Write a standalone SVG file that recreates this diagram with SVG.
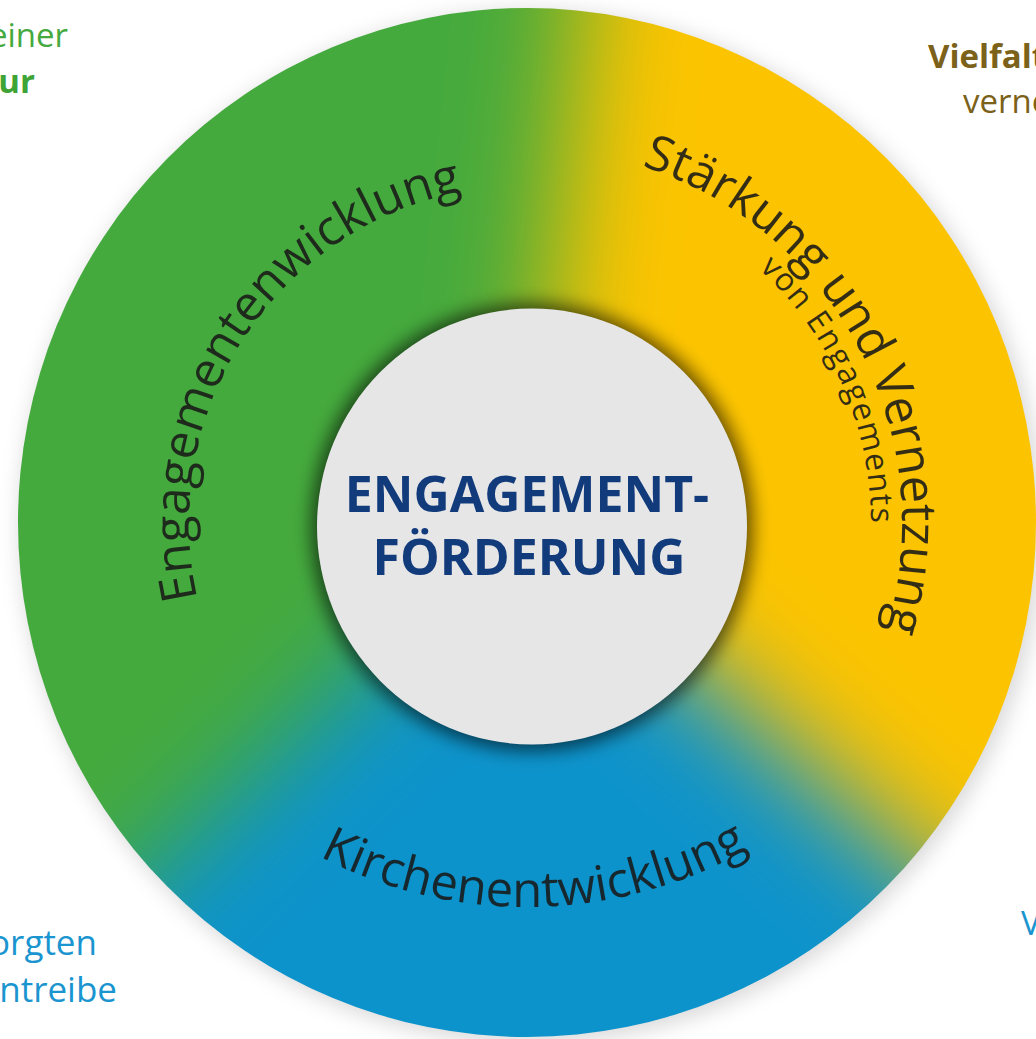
<svg xmlns="http://www.w3.org/2000/svg" xmlns:xlink="http://www.w3.org/1999/xlink" width="1036" height="1039" viewBox="0 0 1036 1039">
  <style>
    .corner { font-family: "Open Sans", "Liberation Sans", sans-serif; font-size: 33px; }
    .arc { font-family: "Open Sans", "Liberation Sans", sans-serif; font-size: 49px; fill: #181818; fill-opacity: 0.88; }
    .arcsmall { font-family: "Open Sans", "Liberation Sans", sans-serif; font-size: 32px; fill: #181818; fill-opacity: 0.88; }
    .center { font-family: "Open Sans", "Liberation Sans", sans-serif; font-size: 50px; font-weight: 700; fill: #123b7c; text-anchor: middle; }
  </style>
  <defs>
    <filter id="blurRing" filterUnits="userSpaceOnUse" x="-250" y="-250" width="1536" height="1539" color-interpolation-filters="sRGB">
      <feGaussianBlur stdDeviation="55"/>
    </filter>
    <filter id="softShadow" x="-20%" y="-20%" width="140%" height="140%">
      <feGaussianBlur stdDeviation="10"/>
    </filter>
    <filter id="innerShadow" x="-20%" y="-20%" width="140%" height="140%">
      <feGaussianBlur stdDeviation="9"/>
    </filter>
    <clipPath id="ringClip">
      <ellipse cx="527" cy="522.5" rx="509" ry="514.5"/>
    </clipPath>
    <path id="p1" d="M268.1,740.3 A338,338 0 0 1 642.6,205.4"/>
    <path id="p2" d="M398.7,170.6 A375,375 0 0 1 768.0,810.3"/>
    <path id="p3" d="M527,179 A344,344 0 0 1 790.5,744.1"/>
    <path id="p4" d="M182.3,746.3 A450,450 0 0 0 871.7,746.3"/>
  </defs>

  <rect width="1036" height="1039" fill="#ffffff"/>

  <!-- corner texts -->
  <g id="corner-texts" class="corner">
    <text x="68" y="47" fill="#44aa3e" text-anchor="end">einer</text>
    <text x="35" y="93" fill="#3da435" font-weight="700" text-anchor="end">ur</text>
    <text x="928" y="68" fill="#7b6119" font-weight="700">Vielfalt</text>
    <text x="963" y="113" fill="#7b6119">verne</text>
    <text x="97" y="955" fill="#1b95cf" text-anchor="end" font-size="35">orgten</text>
    <text x="117" y="1002" fill="#1b95cf" text-anchor="end" font-size="35">ntreibe</text>
    <text x="1021" y="935" fill="#1b95cf">V</text>
  </g>

  <!-- outer ring -->
  <g id="ring">
    <ellipse cx="531" cy="527" rx="512" ry="517" fill="#000" fill-opacity="0.14" filter="url(#softShadow)"/>
    <g clip-path="url(#ringClip)">
      <g filter="url(#blurRing)">
        <rect x="-300" y="-300" width="1636" height="1639" fill="#0d93cb"/>
        <polygon fill="#fcc400" points="527,523 301.3,-757.2 1900,-760 1900,1376 1508.1,1375.9"/>
        <polygon fill="#45aa3d" points="527,523 -423.8,1409.6 -900,1410 -900,-770 662.9,-769.9"/>
      </g>
    </g>
  </g>

  <!-- ring labels -->
  <g id="label-engagemententwicklung">
    <text class="arc"><textPath xlink:href="#p1" href="#p1" startOffset="430.6" text-anchor="middle">Engagementenwicklung</textPath></text>
  </g>
  <g id="label-staerkung">
    <text class="arc" font-size="45"><textPath xlink:href="#p2" href="#p2" startOffset="538" text-anchor="middle">Stärkung und Vernetzung</textPath></text>
    <text class="arcsmall" letter-spacing="1.5"><textPath xlink:href="#p3" href="#p3" startOffset="398" text-anchor="middle">von Engagements</textPath></text>
  </g>
  <g id="label-kirchenentwicklung">
    <text class="arc" font-size="48"><textPath xlink:href="#p4" href="#p4" startOffset="400.5" text-anchor="middle">Kirchenentwicklung</textPath></text>
  </g>

  <!-- center node -->
  <g id="center-node">
    <ellipse cx="532" cy="527" rx="221" ry="224" fill="#000" fill-opacity="0.6" filter="url(#innerShadow)"/>
    <ellipse cx="532" cy="526.5" rx="215" ry="218" fill="#e6e6e7"/>
    <text class="center" x="527" y="512">ENGAGEMENT-</text>
    <text class="center" x="529" y="575">FÖRDERUNG</text>
  </g>
</svg>
